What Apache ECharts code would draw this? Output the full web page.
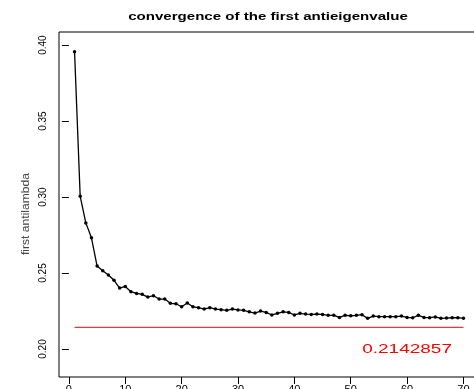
<!DOCTYPE html>
<html>
<head>
<meta charset="utf-8">
<script src="https://cdn.jsdelivr.net/npm/echarts@6/dist/echarts.min.js"></script>
<style>html,body{margin:0;padding:0;background:#fff}#c{width:474px;height:389px}</style>
</head>
<body>
<div id="c"></div>
<script>
var iterations = [];
for (var i = 1; i <= 70; i++) iterations.push(i);
var values = [0.3956,0.3005,0.2830,0.2732,0.2546,0.2515,0.2487,0.2452,0.2401,0.2412,
0.2377,0.2366,0.2360,0.2342,0.2351,0.2329,0.2329,0.2301,0.2298,0.2278,
0.2303,0.2278,0.2272,0.2263,0.2272,0.2263,0.2259,0.2255,0.2263,0.2257,
0.2255,0.2245,0.2237,0.2250,0.2241,0.2224,0.2235,0.2245,0.2241,0.2224,
0.2235,0.2230,0.2228,0.2230,0.2228,0.2222,0.2222,0.2208,0.2222,0.2219,
0.2222,0.2226,0.2202,0.2217,0.2213,0.2213,0.2213,0.2213,0.2217,0.2208,
0.2206,0.2222,0.2208,0.2206,0.2211,0.2202,0.2204,0.2206,0.2206,0.2202];
var limitValue = 0.2142857;
var limitText = "0.2142857";
var limitLabelPos = [60, 0.20];
var xTicks = [0,10,20,30,40,50,60,70];
var yTicks = [0.20,0.25,0.30,0.35,0.40];
var titleText = "convergence of the first antieigenvalue";
var yName = "first antilambda";

var chart = echarts.init(document.getElementById('c'));
var lineData = iterations.map(function(x, i){ return [x, values[i]]; });
var option = {
  animation: false,
  grid: {left: 59, right: -5, top: 32, bottom: 12, show: true, borderColor: '#000', borderWidth: 1,
         outerBoundsMode: 'none', containLabel: false},
  xAxis: {
    type: 'value', min: -1.76, max: 72.76,
    splitLine: {show: false},
    axisLine: {show: false},
    axisTick: {show: true, length: 7, customValues: xTicks, lineStyle: {color: '#000'}},
    axisLabel: {customValues: xTicks, margin: 7, fontFamily: 'Liberation Sans', fontSize: 11, color: '#000', hideOverlap: false}
  },
  yAxis: {
    type: 'value', min: 0.1816, max: 0.4086,
    splitLine: {show: false},
    axisLine: {show: false},
    axisTick: {show: true, length: 7, customValues: yTicks, lineStyle: {color: '#000'}},
    axisLabel: {customValues: yTicks, rotate: 90, margin: 11, fontFamily: 'Liberation Sans', fontSize: 10, color: '#000',
      formatter: function(v){ return v.toFixed(2); }}
  },
  series: [
    {type: 'line', data: lineData, symbol: 'circle', symbolSize: 3.5,
     itemStyle: {color: '#000'}, lineStyle: {color: '#000', width: 1.3}},
    {type: 'line', data: [[1, limitValue], [70, limitValue]], symbol: 'none',
     lineStyle: {color: '#ff0000', width: 1}}
  ]
};
chart.setOption(option);
var p = chart.convertToPixel({gridIndex: 0}, limitLabelPos);
chart.setOption({
  graphic: [
    {type: 'text', x: 268, y: 17, scaleX: 1.37, originX: 0, originY: 0,
     style: {text: titleText, fontFamily: 'Liberation Sans', fontWeight: 'bold', fontSize: 11,
       fill: '#000', align: 'center', verticalAlign: 'middle'}},
    {type: 'text', x: 26, y: 214, rotation: Math.PI / 2, scaleX: 1.1,
     style: {text: yName, fontFamily: 'Liberation Sans', fontSize: 11,
       fill: '#444', align: 'center', verticalAlign: 'middle'}},
    {type: 'text', x: p[0], y: p[1], scaleX: 1.46,
     style: {text: limitText, fontFamily: 'Liberation Sans', fontSize: 13,
       fill: '#ff0000', align: 'center', verticalAlign: 'middle'}}
  ]
});
</script>
</body>
</html>
